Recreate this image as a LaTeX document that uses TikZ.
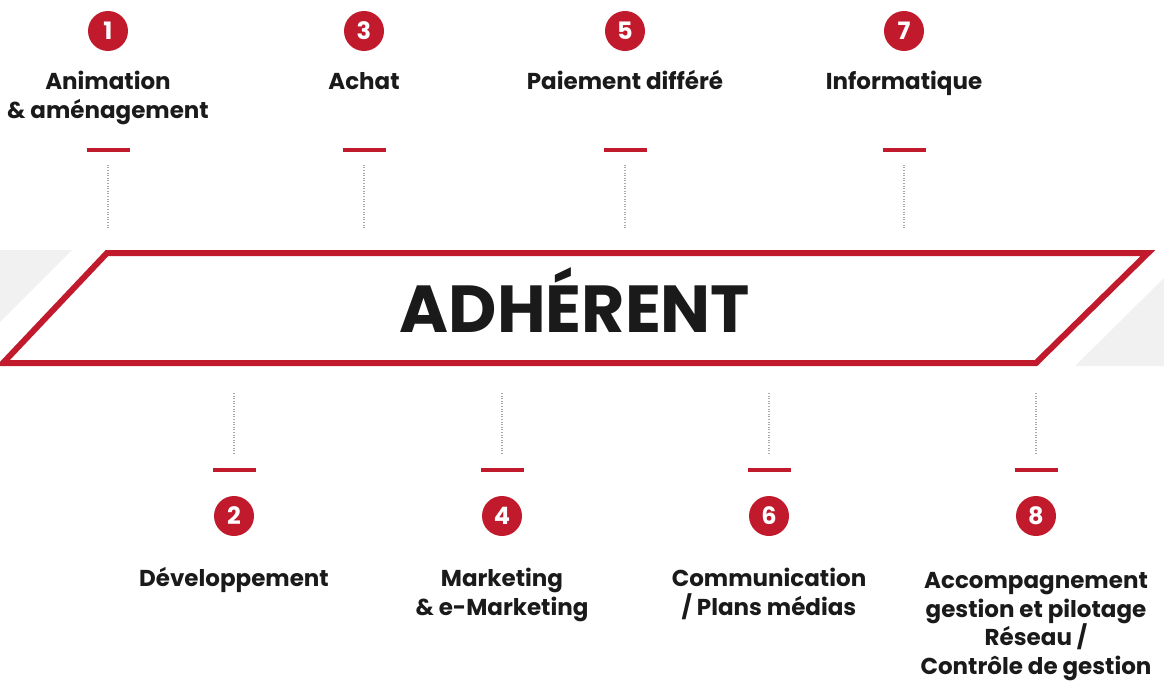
\documentclass[tikz,border=0pt]{standalone}
\usepackage{fontspec}
\setmainfont{Poppins}
\definecolor{adred}{HTML}{C01A2C}
\definecolor{adgray}{HTML}{F0F1F0}
\definecolor{adtext}{HTML}{1A1A1A}
\definecolor{dotgray}{HTML}{A8A8A8}
\begin{document}
\begin{tikzpicture}[x=1pt,y=-1pt,
  numcirc/.style={circle,fill=adred,text=white,minimum size=40pt,inner sep=0pt,font=\bfseries\fontsize{24}{24}\selectfont},
  lbl/.style={align=center,text=adtext,font=\bfseries\fontsize{23}{29}\selectfont,inner sep=0pt,anchor=base},
  dashbar/.style={fill=adred,minimum width=43pt,minimum height=3.2pt,inner sep=0pt},
  dotline/.style={draw=dotgray,line width=1.2pt,dash pattern=on 1pt off 1.6pt}]
\useasboundingbox (0,0) rectangle (1164,682);
% gray triangles
\fill[adgray] (0,250) -- (72,250) -- (0,322) -- cycle;
\fill[adgray] (1075,366) -- (1164,366) -- (1164,278) -- cycle;
% parallelogram
\draw[adred,line width=6pt,line join=miter] (107,253) -- (1148,253) -- (1036,363) -- (3,363) -- cycle;
\node[font=\bfseries\fontsize{66.5}{66.5}\selectfont,text=adtext,inner sep=0pt,anchor=base] (title) at (575,332) {ADHÉRENT};
% top items
\foreach \n/\x in {1/108,3/364,5/625,7/904}{
  \node[numcirc] (c\n) at (\x,31) {\n};
  \node[dashbar] (d\n) at (\x,150) {};
  \coordinate (e\n) at (\x,228);
  \draw[dotline] ([yshift=-13pt]d\n.south) -- (e\n);
}
\node[lbl] (l1) at (108,119) {Animation\\\& aménagement};
\node[lbl] (l3) at (364,90) {Achat};
\node[lbl] (l5) at (625,90) {Paiement différé};
\node[lbl] (l7) at (904,90) {Informatique};
% bottom items
\foreach \n/\x in {2/234,4/502,6/769,8/1036}{
  \coordinate (e\n) at (\x,393);
  \node[dashbar] (d\n) at (\x,470) {};
  \draw[dotline] (e\n) -- ([yshift=13pt]d\n.north);
  \node[numcirc] (c\n) at (\x,516) {\n};
}
\node[lbl] (l2) at (234,586) {Développement};
\node[lbl] (l4) at (502,615) {Marketing\\\& e-Marketing};
\node[lbl] (l6) at (769,615) {Communication\\/ Plans médias};
\node[lbl,font=\bfseries\fontsize{23}{28.5}\selectfont] (l8) at (1036,674) {Accompagnement\\gestion et pilotage\\Réseau /\\Contrôle de gestion};
\end{tikzpicture}
\end{document}
